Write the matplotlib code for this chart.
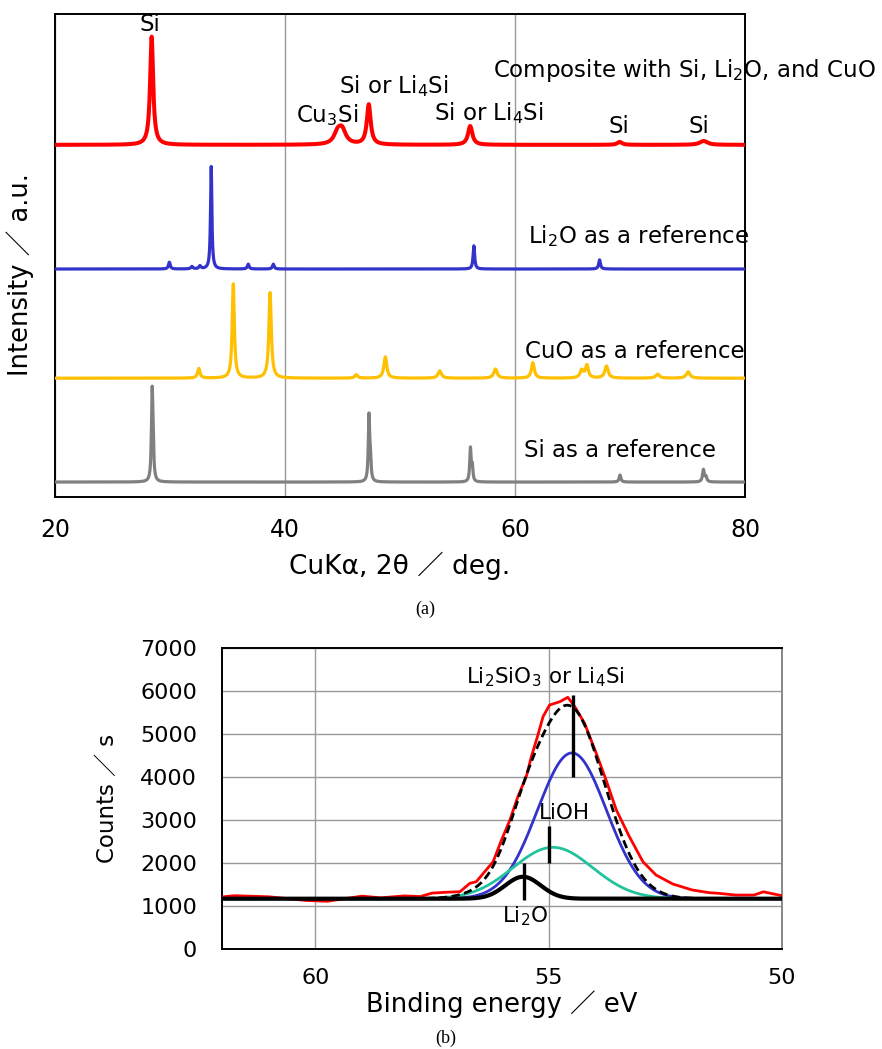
import numpy as np
import matplotlib
matplotlib.use("Agg")
import matplotlib.pyplot as plt

plt.rcParams["font.family"] = ["DejaVu Sans", "Noto Sans CJK JP"]
plt.rcParams["mathtext.fontset"] = "dejavusans"

# ---------------- (a) XRD: peak lists ----------------
# position (2theta, deg), height (a.u.), FWHM (deg); baseline offset of each trace
comp_pos = [28.40, 44.55, 44.95, 47.28, 56.10, 69.10, 76.40]
comp_h = [22.4, 2.0, 3.0, 8.3, 3.9, 0.6, 0.8]
comp_w = [0.32, 0.7, 0.8, 0.40, 0.45, 0.5, 0.8]
comp_base = 72.9

li2o_pos = [29.94, 31.90, 32.60, 33.58, 36.80, 38.98, 56.42, 67.35]
li2o_h = [1.4, 0.5, 0.6, 21.2, 1.0, 1.0, 4.8, 1.9]
li2o_w = [0.18, 0.2, 0.2, 0.14, 0.18, 0.18, 0.16, 0.18]
li2o_base = 47.2

cuo_pos = [32.50, 35.50, 38.70, 46.20, 48.72, 53.45, 58.30, 61.55, 65.80, 66.25, 67.95, 72.40, 75.05]
cuo_h = [2.0, 19.5, 17.7, 0.7, 4.4, 1.5, 1.9, 3.2, 1.6, 2.6, 2.5, 0.8, 1.3]
cuo_w = [0.25, 0.22, 0.25, 0.3, 0.3, 0.35, 0.35, 0.3, 0.35, 0.3, 0.35, 0.4, 0.4]
cuo_base = 24.6

si_pos = [28.44, 28.52, 47.30, 47.42, 56.12, 56.28, 69.13, 76.38, 76.60]
si_h = [17.2, 6.0, 13.3, 4.0, 6.8, 3.0, 1.45, 2.5, 1.0]
si_w = [0.14, 0.14, 0.14, 0.14, 0.14, 0.14, 0.18, 0.18, 0.18]
si_base = 3.1

# ---------------- (b) Li 1s XPS ----------------
be_meas = [62.0, 61.75, 61.0, 60.2, 59.75, 59.0, 58.6, 58.1, 57.75, 57.5, 57.2,
           56.9, 56.69, 56.55, 56.4, 56.19, 56.01, 55.83, 55.66, 55.48, 55.37,
           55.23, 55.12, 54.98, 54.76, 54.59, 54.44, 54.23, 53.98, 53.77, 53.55,
           53.27, 52.98, 52.7, 52.34, 51.92, 51.56, 51.35, 51.0, 50.6, 50.4, 50.0]
cps_meas = [1210, 1240, 1215, 1130, 1110, 1230, 1190, 1235, 1220, 1300, 1320,
            1333, 1527, 1566, 1760, 2030, 2535, 3000, 3543, 4008, 4473,
            4977, 5403, 5674, 5751, 5853, 5635, 5248, 4550, 3930, 3233,
            2612, 2030, 1721, 1512, 1372, 1310, 1295, 1255, 1255, 1330, 1240]
xps_base = 1170
# fitted components: centre (eV), height above baseline, sigma (eV)
comp_names = ["Li$_2$SiO$_3$ or Li$_4$Si", "LiOH", "Li$_2$O"]
comp_centre = [54.50, 54.91, 55.55]
comp_height = [3390, 1195, 510]
comp_sigma = [0.74, 0.85, 0.38]
bar_x = [54.48, 55.00, 55.53]
bar_lo = [4007, 2007, 1140]
bar_hi = [5907, 2868, 2000]


def pattern(x, pos, h, w, base):
    y = np.full_like(x, base)
    for p, a, fw in zip(pos, h, w):
        g = fw / 2
        y += a * g ** 2 / ((x - p) ** 2 + g ** 2)
    return y


def gauss(x, c, a, s):
    return a * np.exp(-0.5 * ((x - c) / s) ** 2)


fig = plt.figure(figsize=(8.82, 10.49), dpi=100)

# ---------- panel (a) ----------
ax = fig.add_axes([0.0624, 0.5262, 0.7823, 0.4605])
tt = np.arange(20, 80.001, 0.01)
traces = [
    (comp_pos, comp_h, comp_w, comp_base, "#ff0000", 2.9),
    (li2o_pos, li2o_h, li2o_w, li2o_base, "#3333cc", 2.3),
    (cuo_pos, cuo_h, cuo_w, cuo_base, "#ffc000", 2.3),
    (si_pos, si_h, si_w, si_base, "#808080", 2.3),
]
for pos, h, w, base, col, lw in traces:
    ax.plot(tt, pattern(tt, pos, h, w, base), color=col, lw=lw, zorder=3)

ax.set_xlim(20, 80)
ax.set_ylim(0, 100)
ax.set_xticks([20, 40, 60, 80])
ax.set_yticks([])
ax.grid(axis="x", color="#999999", lw=1.0)
ax.tick_params(axis="x", length=0, pad=15, labelsize=17)
for s in ax.spines.values():
    s.set_linewidth(1.4)
ax.set_xlabel("CuKα, 2θ ／ deg.", fontsize=19, labelpad=7)
ax.set_ylabel("Intensity ／ a.u.", fontsize=18.5)
ax.yaxis.set_label_coords(-0.031, 0.46)

fs = 16.5
ax.text(28.26, 97.9, "Si", fontsize=fs, ha="center", va="center")
ax.text(43.7, 79.1, "Cu$_3$Si", fontsize=fs, ha="center", va="center")
ax.text(49.5, 85.1, "Si or Li$_4$Si", fontsize=fs, ha="center", va="center")
ax.text(57.7, 79.5, "Si or Li$_4$Si", fontsize=fs, ha="center", va="center")
ax.text(74.7, 88.2, "Composite with Si, Li$_2$O, and CuO", fontsize=fs,
        ha="center", va="center", clip_on=False)
ax.text(69.0, 76.8, "Si", fontsize=fs, ha="center", va="center")
ax.text(76.0, 76.8, "Si", fontsize=fs, ha="center", va="center")
ax.text(70.7, 54.0, "Li$_2$O as a reference", fontsize=fs, ha="center", va="center", clip_on=False)
ax.text(70.4, 30.1, "CuO as a reference", fontsize=fs, ha="center", va="center", clip_on=False)
ax.text(69.1, 9.7, "Si as a reference", fontsize=fs, ha="center", va="center")

fig.text(425 / 882, 1 - 609 / 1049, "(a)", fontsize=13, family="Liberation Serif",
         ha="center", va="center")

# ---------- panel (b) ----------
bx = fig.add_axes([0.2517, 0.0953, 0.6349, 0.2870])
ee = np.arange(50, 62.001, 0.02)
total = np.full_like(ee, xps_base)
curves = []
for c, a, s in zip(comp_centre, comp_height, comp_sigma):
    g = gauss(ee, c, a, s)
    total += g
    curves.append(g + xps_base)

bx.plot(be_meas, cps_meas, color="#ff0000", lw=2.0, zorder=3)
bx.plot(ee, curves[0], color="#3333cc", lw=2.0, zorder=4)
bx.plot(ee, curves[1], color="#20c39e", lw=2.0, zorder=4)
bx.plot(ee, total, color="black", lw=2.0, ls=(0, (3, 1.6)), zorder=5)
bx.plot(ee, curves[2], color="black", lw=3.0, zorder=6)

# peak marker bars and labels
bx.vlines(bar_x, bar_lo, bar_hi, color="black", lw=2.4, zorder=7)
bx.text(55.08, 6330, comp_names[0], fontsize=15.5, ha="center", va="center")
bx.text(54.66, 3160, comp_names[1], fontsize=15.5, ha="center", va="center")
bx.text(55.5, 760, comp_names[2], fontsize=15.5, ha="center", va="center")

bx.set_xlim(62, 50)
bx.set_ylim(0, 7000)
bx.set_xticks([60, 55, 50])
bx.set_yticks(np.arange(0, 7001, 1000))
bx.grid(True, color="#999999", lw=1.0)
bx.tick_params(length=0, labelsize=16)
bx.tick_params(axis="y", pad=18)
bx.tick_params(axis="x", pad=14)
for s in bx.spines.values():
    s.set_linewidth(1.4)
bx.spines["right"].set_color("#888888")
bx.set_xlabel("Binding energy ／ eV", fontsize=18.5, labelpad=1)
bx.set_ylabel("Counts ／ s", fontsize=16.5, labelpad=15)

fig.text(446 / 882, 1 - 1038 / 1049, "(b)", fontsize=13, family="Liberation Serif",
         ha="center", va="center")

fig.savefig("out.png", dpi=100)
